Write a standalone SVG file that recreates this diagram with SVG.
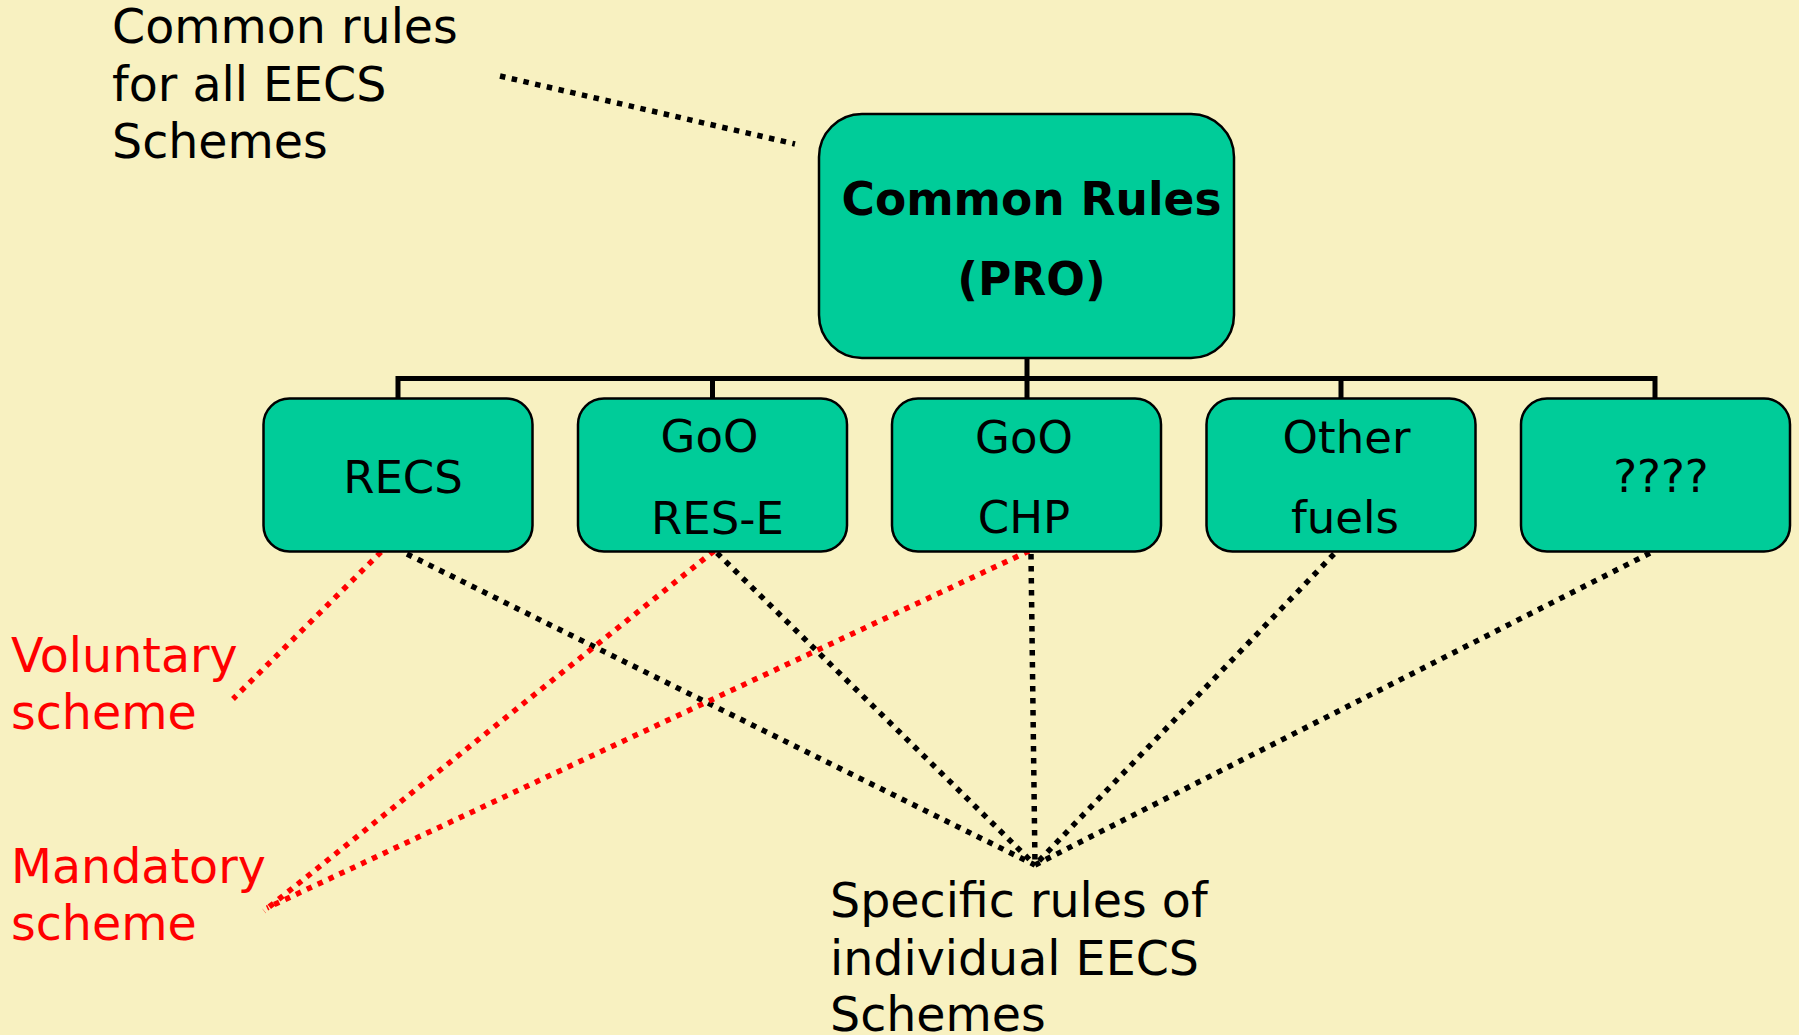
<svg xmlns="http://www.w3.org/2000/svg" width="1799" height="1035" viewBox="0 0 1799 1035">
  <style>
    .bg { fill: #F8F1C1; }
    .box { fill: #00CC99; stroke: #000; stroke-width: 2.5; }
    .label { font-family: "DejaVu Sans", Verdana, sans-serif; font-size: 45px; fill: #000; text-anchor: middle; }
    .title { font-family: "DejaVu Sans", Verdana, sans-serif; font-size: 45.5px; font-weight: bold; fill: #000; text-anchor: middle; }
    .note { font-family: "DejaVu Sans", Verdana, sans-serif; font-size: 47.5px; fill: #000; }
    .note-red { font-family: "DejaVu Sans", Verdana, sans-serif; font-size: 47.5px; fill: #FF0000; }
    .tree { stroke: #000; stroke-width: 5; fill: none; }
    .dot { stroke: #000; stroke-width: 5.5; stroke-dasharray: 5.5 6.5; fill: none; }
    .dot-red { stroke: #FF0000; stroke-width: 5.5; stroke-dasharray: 5.5 6.5; fill: none; }
  </style>

  <rect class="bg" x="0" y="0" width="1799" height="1035"/>

  <!-- connectors -->
  <g id="connectors">
    <!-- org-chart tree -->
    <path class="tree" d="M1027 358 V378.5 M398 378.5 H1655 M398 376 V399 M712.5 376 V399 M1027 376 V399 M1341 376 V399 M1655 376 V399"/>
    <!-- annotation pointer -->
    <line class="dot" x1="500" y1="76" x2="795" y2="144"/>
    <!-- specific rules fan -->
    <line class="dot" x1="407" y1="554" x2="1035" y2="865"/>
    <line class="dot" x1="717" y1="553" x2="1035" y2="865"/>
    <line class="dot" x1="1031" y1="554" x2="1035" y2="865"/>
    <line class="dot" x1="1334" y1="554" x2="1035" y2="865"/>
    <line class="dot" x1="1650" y1="553" x2="1035" y2="865"/>
    <!-- scheme type pointers -->
    <line class="dot-red" x1="381" y1="552" x2="233" y2="699"/>
    <line class="dot-red" x1="714" y1="551" x2="264" y2="911"/>
    <line class="dot-red" x1="1029" y1="551" x2="267" y2="908"/>
  </g>

  <g id="common-rules">
    <rect class="box" x="819" y="114" width="415" height="244" rx="43" ry="43"/>
    <text class="title" x="1031.5" y="215">Common Rules</text>
    <text class="title" x="1031.5" y="295">(PRO)</text>
  </g>

  <g id="recs">
    <rect class="box" x="263.5" y="398.5" width="269" height="153" rx="26" ry="26"/>
    <text class="label" x="403" y="493">RECS</text>
  </g>

  <g id="goo-res-e">
    <rect class="box" x="578" y="398.5" width="269" height="153" rx="26" ry="26"/>
    <text class="label" x="709.5" y="452">GoO</text>
    <text class="label" x="717.5" y="534">RES-E</text>
  </g>

  <g id="goo-chp">
    <rect class="box" x="892" y="398.5" width="269" height="153" rx="26" ry="26"/>
    <text class="label" x="1024" y="452.5">GoO</text>
    <text class="label" x="1024" y="533">CHP</text>
  </g>

  <g id="other-fuels">
    <rect class="box" x="1206.5" y="398.5" width="269" height="153" rx="26" ry="26"/>
    <text class="label" x="1346.5" y="452.5">Other</text>
    <text class="label" x="1345" y="533">fuels</text>
  </g>

  <g id="unknown">
    <rect class="box" x="1521" y="398.5" width="269" height="153" rx="26" ry="26"/>
    <text class="label" x="1661" y="492">????</text>
  </g>

  <g id="common-note">
    <text class="note" x="112" y="43">Common rules</text>
    <text class="note" x="112" y="100.5">for all EECS</text>
    <text class="note" x="112" y="158">Schemes</text>
  </g>

  <g id="voluntary-note">
    <text class="note-red" x="11" y="672">Voluntary</text>
    <text class="note-red" x="11" y="729">scheme</text>
  </g>

  <g id="mandatory-note">
    <text class="note-red" x="11" y="883">Mandatory</text>
    <text class="note-red" x="11" y="940">scheme</text>
  </g>

  <g id="specific-note">
    <text class="note" x="830" y="917">Specific rules of</text>
    <text class="note" x="830" y="975">individual EECS</text>
    <text class="note" x="830" y="1031">Schemes</text>
  </g>
</svg>
